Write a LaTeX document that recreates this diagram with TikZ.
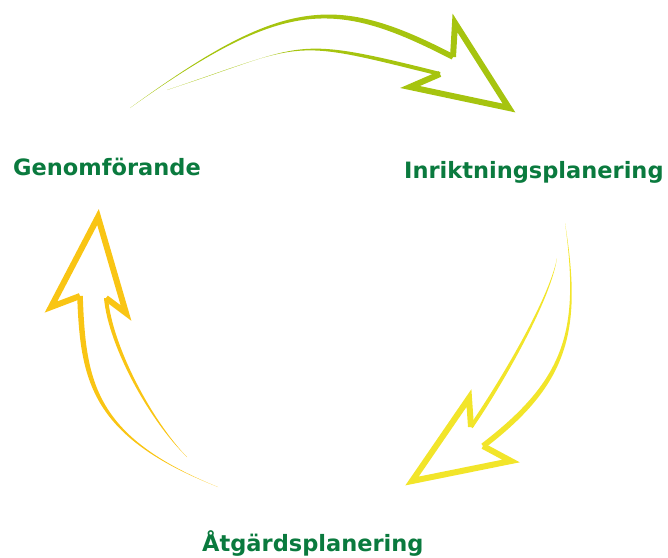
\documentclass[tikz,border=0pt]{standalone}
\usepackage{fontspec}
\setmainfont{DejaVu Sans}
\usetikzlibrary{calc}

\definecolor{limegreen}{HTML}{A6C40F}
\definecolor{lemon}{HTML}{F2E52A}
\definecolor{gold}{HTML}{F9C514}
\definecolor{textgreen}{HTML}{0A7A3E}

% tapered arc: colour, tail, control 1, control 2, end, half width, half width at control 1
\newcommand{\swoosh}[7]{%
  \fill[#1] (#2) .. controls ($(#3)!#7!90:(#4)$) and ($(#4)!#6!90:(#5)$)
    .. ($(#5)!#6!-90:(#4)$) -- ($(#5)!#6!90:(#4)$)
    .. controls ($(#4)!#6!-90:(#5)$) and ($(#3)!#7!-90:(#4)$) .. cycle;
}

\begin{document}
\begin{tikzpicture}[x=1pt, y=-1pt, % pixel coordinates, y downwards
    phase/.style={font=\fontsize{22.5}{26}\selectfont\bfseries, text=textgreen, inner sep=0pt},
    head/.style={line width=6pt, line join=miter, miter limit=20}
  ]
  \useasboundingbox (0,0) rectangle (668,557);

  % faser
  \node[phase, anchor=base west] (genom) at (13,175) {Genomförande};
  \node[phase, anchor=base west] (inrikt) at (404,178) {Inriktningsplanering};
  \node[phase, anchor=base west] (atgard) at (202,551) {Åtgärdsplanering};

  % pil 1 (överst)
  \coordinate (A_out) at (453,57);   % yttre båge möter spetsen
  \coordinate (A_bar1) at (455,23);
  \coordinate (A_tip) at (509,108);
  \coordinate (A_bar2) at (410,87);
  \coordinate (A_in) at (440,74);
  \swoosh{limegreen}{130,108}{284,-3}{335,-4}{A_out}{2.8pt}{1.4pt}
  \swoosh{limegreen}{167,90}{309,43}{288,36}{A_in}{2pt}{1pt}
  \draw[head, limegreen] (A_out) -- (A_bar1) -- (A_tip) -- (A_bar2) -- (A_in);

  % pil 2 (höger)
  \coordinate (B_out) at (483,446);
  \coordinate (B_bar1) at (511,461);
  \coordinate (B_tip) at (412,481);
  \coordinate (B_bar2) at (469,398);
  \coordinate (B_in) at (471,427);
  \swoosh{lemon}{565,223}{581,330}{568,381}{B_out}{2.8pt}{1.4pt}
  \swoosh{lemon}{557,258}{550,300}{500,385}{B_in}{2pt}{1pt}
  \draw[head, lemon] (B_out) -- (B_bar1) -- (B_tip) -- (B_bar2) -- (B_in);

  % pil 3 (vänster)
  \coordinate (C_out) at (80,296);
  \coordinate (C_bar1) at (51,307);
  \coordinate (C_tip) at (98,217);
  \coordinate (C_bar2) at (126,313);
  \coordinate (C_in) at (106,298);
  \swoosh{gold}{218,487}{93,437}{83,382}{C_out}{2.8pt}{1.4pt}
  \swoosh{gold}{187,457}{150,420}{110,345}{C_in}{2pt}{1pt}
  \draw[head, gold] (C_out) -- (C_bar1) -- (C_tip) -- (C_bar2) -- (C_in);
\end{tikzpicture}
\end{document}
